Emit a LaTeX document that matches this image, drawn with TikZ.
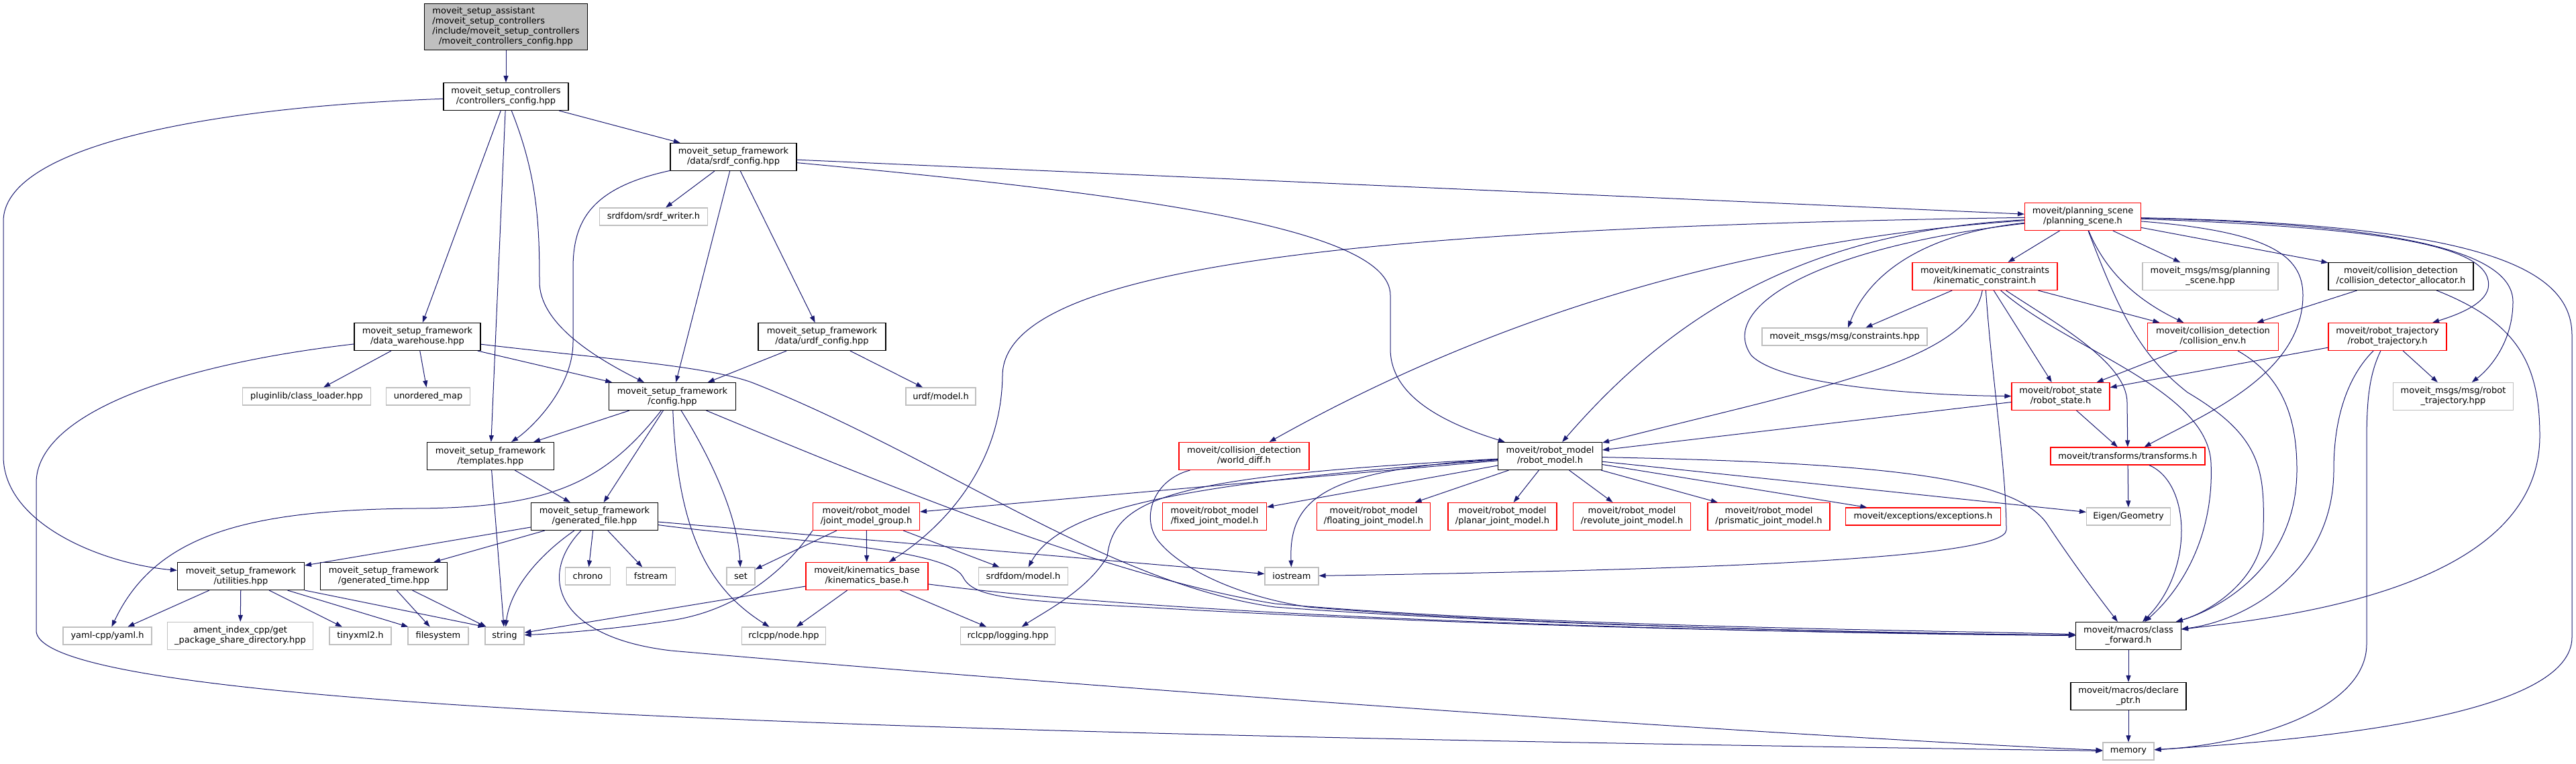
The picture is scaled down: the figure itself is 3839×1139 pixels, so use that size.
\documentclass[tikz,border=0pt]{standalone}
\usepackage{fontspec}
\setmainfont{DejaVu Sans}
\usetikzlibrary{arrows.meta}

\definecolor{depblue}{HTML}{191970}
\definecolor{extgray}{HTML}{BFBFBF}

\begin{document}
\begin{tikzpicture}[
        x=1pt, y=-1pt, % pixel like units, y grows downwards
        every node/.style={rectangle, line width=1.1pt, inner sep=2pt, minimum height=41, align=center, font=\fontsize{13}{15}\selectfont},
        doc/.style={draw=black},
        trunc/.style={draw=red},
        ext/.style={draw=extgray},
        cur/.style={draw=black, fill=extgray},
        one/.style={minimum height=26},
        dep/.style={draw=depblue, line width=1pt, -{Triangle[length=10pt, width=7pt]}}
      ]
      \useasboundingbox (0,0) rectangle (3839,1139);

      % Nodes
      \node[cur, minimum width=243, minimum height=69] (root) at (754,40) {\begin{tabular}{@{}l@{}}moveit\_setup\_assistant\\/moveit\_setup\_controllers\\/include/moveit\_setup\_controllers\\\multicolumn{1}{@{}c@{}}{/moveit\_controllers\_config.hpp}\end{tabular}};
      \node[doc, minimum width=186] (ctrl) at (754,144) {moveit\_setup\_controllers\\/controllers\_config.hpp};
      \node[doc, minimum width=188] (srdfcfg) at (1093,234) {moveit\_setup\_framework\\/data/srdf\_config.hpp};
      \node[ext, one, minimum width=161] (srdfw) at (974,323) {srdfdom/srdf\_writer.h};
      \node[trunc, minimum width=173] (pscene) at (3104,323) {moveit/planning\_scene\\/planning\_scene.h};
      \node[trunc, minimum width=216] (kconstr) at (2958,412) {moveit/kinematic\_constraints\\/kinematic\_constraint.h};
      \node[ext, minimum width=202] (pscenehpp) at (3294,412) {moveit\_msgs/msg/planning\\\_scene.hpp};
      \node[doc, minimum width=216] (cdalloc) at (3578,412) {moveit/collision\_detection\\/collision\_detector\_allocator.h};
      \node[doc, minimum width=188] (dwh) at (622,502) {moveit\_setup\_framework\\/data\_warehouse.hpp};
      \node[doc, minimum width=190] (urdfcfg) at (1225,502) {moveit\_setup\_framework\\/data/urdf\_config.hpp};
      \node[ext, one, minimum width=246] (constraints) at (2749,502) {moveit\_msgs/msg/constraints.hpp};
      \node[trunc, minimum width=195] (cenv) at (3298,502) {moveit/collision\_detection\\/collision\_env.h};
      \node[trunc, minimum width=176] (rtraj) at (3558,502) {moveit/robot\_trajectory\\/robot\_trajectory.h};
      \node[ext, one, minimum width=191] (plugin) at (457,591) {pluginlib/class\_loader.hpp};
      \node[ext, one, minimum width=125] (umap) at (638,591) {unordered\_map};
      \node[doc, minimum width=189] (cfg) at (1002,591) {moveit\_setup\_framework\\/config.hpp};
      \node[ext, one, minimum width=104] (urdfmodel) at (1402,591) {urdf/model.h};
      \node[trunc, minimum width=146] (rstate) at (3071,591) {moveit/robot\_state\\/robot\_state.h};
      \node[ext, minimum width=179] (rtrajhpp) at (3656,591) {moveit\_msgs/msg/robot\\\_trajectory.hpp};
      \node[doc, minimum width=189] (tmpl) at (731,680) {moveit\_setup\_framework\\/templates.hpp};
      \node[trunc, minimum width=194] (wdiff) at (1854,680) {moveit/collision\_detection\\/world\_diff.h};
      \node[doc, minimum width=155] (rmodel) at (2310,680) {moveit/robot\_model\\/robot\_model.h};
      \node[trunc, one, minimum width=230] (transforms) at (3171,680) {moveit/transforms/transforms.h};
      \node[doc, minimum width=189] (gfile) at (886,770) {moveit\_setup\_framework\\/generated\_file.hpp};
      \node[trunc, minimum width=159] (jmg) at (1291,770) {moveit/robot\_model\\/joint\_model\_group.h};
      \node[trunc, minimum width=155] (fixed) at (1810,770) {moveit/robot\_model\\/fixed\_joint\_model.h};
      \node[trunc, minimum width=169] (floating) at (2047,770) {moveit/robot\_model\\/floating\_joint\_model.h};
      \node[trunc, minimum width=162] (planar) at (2239,770) {moveit/robot\_model\\/planar\_joint\_model.h};
      \node[trunc, minimum width=175] (revolute) at (2432,770) {moveit/robot\_model\\/revolute\_joint\_model.h};
      \node[trunc, minimum width=182] (prismatic) at (2636,770) {moveit/robot\_model\\/prismatic\_joint\_model.h};
      \node[trunc, one, minimum width=231] (exceptions) at (2866,770) {moveit/exceptions/exceptions.h};
      \node[ext, one, minimum width=125] (eigen) at (3172,770) {Eigen/Geometry};
      \node[doc, minimum width=189] (util) at (359,859) {moveit\_setup\_framework\\/utilities.hpp};
      \node[doc, minimum width=189] (gtime) at (572,859) {moveit\_setup\_framework\\/generated\_time.hpp};
      \node[ext, one, minimum width=67] (chrono) at (876,859) {chrono};
      \node[ext, one, minimum width=73] (fstream) at (970,859) {fstream};
      \node[ext, one, minimum width=42] (set) at (1104,859) {set};
      \node[trunc, minimum width=182] (kbase) at (1292,859) {moveit/kinematics\_base\\/kinematics\_base.h};
      \node[ext, one, minimum width=133] (srdfmodel) at (1525,859) {srdfdom/model.h};
      \node[ext, one, minimum width=80] (iostream) at (1925,859) {iostream};
      \node[ext, one, minimum width=132] (yaml) at (160,948) {yaml-cpp/yaml.h};
      \node[ext, minimum width=217] (ament) at (358,948) {ament\_index\_cpp/get\\\_package\_share\_directory.hpp};
      \node[ext, one, minimum width=92] (tinyxml) at (537,948) {tinyxml2.h};
      \node[ext, one, minimum width=90] (filesystem) at (653,948) {filesystem};
      \node[ext, one, minimum width=58] (string) at (752,948) {string};
      \node[ext, one, minimum width=125] (rclnode) at (1168,948) {rclcpp/node.hpp};
      \node[ext, one, minimum width=141] (logging) at (1502,948) {rclcpp/logging.hpp};
      \node[doc, minimum width=157] (cfwd) at (3172,948) {moveit/macros/class\\\_forward.h};
      \node[doc, minimum width=172] (declptr) at (3172,1038) {moveit/macros/declare\\\_ptr.h};
      \node[ext, one, minimum width=76] (memory) at (3172,1120) {memory};

      % Edges
      \draw[dep] (root) -- (ctrl);
      \draw[dep] (ctrl) .. controls (300,160) and (5,220) .. (5,330) -- (5,680) .. controls (5,780) and (150,840) .. (util);
      \draw[dep] (ctrl) -- (dwh);
      \draw[dep] (ctrl) -- (tmpl);
      \draw[dep] (ctrl) .. controls (800,260) and (804,330) .. (804,420) .. controls (804,480) and (880,530) .. (cfg);
      \draw[dep] (ctrl) -- (srdfcfg);
      \draw[dep] (srdfcfg) .. controls (880,280) and (854,330) .. (854,400) -- (854,510) .. controls (854,580) and (790,640) .. (tmpl);
      \draw[dep] (srdfcfg) -- (srdfw);
      \draw[dep] (srdfcfg) -- (cfg);
      \draw[dep] (srdfcfg) -- (urdfcfg);
      \draw[dep] (srdfcfg) -- (pscene);
      \draw[dep] (srdfcfg) .. controls (1700,290) and (2072,340) .. (2072,440) -- (2072,520) .. controls (2072,590) and (2150,630) .. (rmodel);
      \draw[dep] (dwh) .. controls (250,545) and (54,620) .. (54,720) -- (54,940) .. controls (54,1060) and (1400,1095) .. (memory);
      \draw[dep] (dwh) -- (plugin);
      \draw[dep] (dwh) -- (umap);
      \draw[dep] (dwh) -- (cfg);
      \draw[dep] (dwh) .. controls (900,535) and (1050,545) .. (1120,570) .. controls (1400,680) and (1650,870) .. (1900,905) .. controls (2300,935) and (2900,945) .. (cfwd);
      \draw[dep] (urdfcfg) -- (cfg);
      \draw[dep] (urdfcfg) -- (urdfmodel);
      \draw[dep] (cfg) -- (tmpl);
      \draw[dep] (cfg) -- (gfile);
      \draw[dep] (cfg) .. controls (900,720) and (820,757) .. (620,758) .. controls (360,760) and (230,800) .. (yaml);
      \draw[dep] (cfg) .. controls (1070,700) and (1100,780) .. (set);
      \draw[dep] (cfg) .. controls (1010,800) and (1060,880) .. (rclnode);
      \draw[dep] (cfg) .. controls (1300,715) and (1650,860) .. (1900,900) .. controls (2300,935) and (2900,940) .. (cfwd);
      \draw[dep] (tmpl) -- (gfile);
      \draw[dep] (tmpl) -- (string);
      \draw[dep] (gfile) -- (util);
      \draw[dep] (gfile) -- (gtime);
      \draw[dep] (gfile) .. controls (800,830) and (760,880) .. (string);
      \draw[dep] (gfile) -- (chrono);
      \draw[dep] (gfile) -- (fstream);
      \draw[dep] (gfile) .. controls (800,860) and (830,950) .. (1000,970) .. controls (1800,1040) and (2800,1105) .. (memory);
      \draw[dep] (gfile) -- (iostream);
      \draw[dep] (gfile) .. controls (1150,805) and (1410,815) .. (1435,860) .. controls (1450,890) and (1500,895) .. (1700,905) .. controls (2300,940) and (2900,945) .. (cfwd);
      \draw[dep] (util) -- (yaml);
      \draw[dep] (util) -- (ament);
      \draw[dep] (util) -- (tinyxml);
      \draw[dep] (util) -- (filesystem);
      \draw[dep] (util.south east) -- (string.north west);
      \draw[dep] (gtime) -- (filesystem);
      \draw[dep] (gtime) -- (string);
      \draw[dep] (jmg) -- (set);
      \draw[dep] (jmg.south west) .. controls (1170,850) and (1100,910) .. (1000,925) .. controls (900,940) and (820,945) .. (string);
      \draw[dep] (jmg) -- (kbase);
      \draw[dep] (jmg) -- (srdfmodel);
      \draw[dep] (kbase) -- (string);
      \draw[dep] (kbase) -- (rclnode);
      \draw[dep] (kbase) -- (logging);
      \draw[dep] (kbase) .. controls (1800,925) and (2700,945) .. (cfwd);
      \draw[dep] (rmodel) -- (jmg);
      \draw[dep] (rmodel) .. controls (1750,720) and (1580,760) .. (srdfmodel);
      \draw[dep] (rmodel) .. controls (1750,710) and (1660,740) .. (1650,830) .. controls (1620,880) and (1560,910) .. (logging);
      \draw[dep] (rmodel) .. controls (1980,700) and (1920,740) .. (iostream);
      \draw[dep] (rmodel) -- (fixed);
      \draw[dep] (rmodel) -- (floating);
      \draw[dep] (rmodel) -- (planar);
      \draw[dep] (rmodel) -- (revolute);
      \draw[dep] (rmodel) -- (prismatic);
      \draw[dep] (rmodel) -- (exceptions);
      \draw[dep] (rmodel) -- (eigen);
      \draw[dep] (rmodel) .. controls (2800,690) and (3000,710) .. (3050,780) .. controls (3090,840) and (3120,880) .. (cfwd);
      \draw[dep] (wdiff) .. controls (1720,715) and (1700,770) .. (1725,805) .. controls (1760,850) and (1850,890) .. (1950,905) .. controls (2300,935) and (2900,945) .. (cfwd);
      \draw[dep] (pscene) .. controls (2000,340) and (1495,400) .. (1494,560) .. controls (1492,700) and (1400,790) .. (kbase);
      \draw[dep] (pscene) .. controls (2700,350) and (2300,430) .. (wdiff);
      \draw[dep] (pscene) .. controls (2700,345) and (2500,460) .. (rmodel);
      \draw[dep] (pscene) .. controls (2850,350) and (2780,420) .. (constraints);
      \draw[dep] (pscene) .. controls (2700,370) and (2560,460) .. (2610,530) .. controls (2660,580) and (2900,590) .. (rstate);
      \draw[dep] (pscene) -- (kconstr);
      \draw[dep] (pscene) -- (pscenehpp);
      \draw[dep] (pscene) -- (cdalloc);
      \draw[dep] (pscene) .. controls (3140,410) and (3190,450) .. (cenv);
      \draw[dep] (pscene) .. controls (3380,345) and (3432,380) .. (3432,440) .. controls (3432,560) and (3280,620) .. (transforms);
      \draw[dep] (pscene) .. controls (3160,470) and (3190,530) .. (3260,585) .. controls (3370,650) and (3375,700) .. (3373,790) .. controls (3370,860) and (3300,910) .. (cfwd);
      \draw[dep] (pscene) .. controls (3550,340) and (3720,365) .. (3708,430) .. controls (3702,455) and (3660,470) .. (rtraj);
      \draw[dep] (pscene) .. controls (3600,335) and (3745,380) .. (3745,450) .. controls (3745,510) and (3710,550) .. (rtrajhpp);
      \draw[dep] (pscene) .. controls (3700,335) and (3833,400) .. (3833,500) -- (3833,950) .. controls (3833,1060) and (3500,1100) .. (memory);
      \draw[dep] (kconstr) -- (constraints);
      \draw[dep] (kconstr) -- (cenv);
      \draw[dep] (kconstr) -- (rstate);
      \draw[dep] (kconstr) .. controls (3060,480) and (3170,540) .. (3170,600) -- (transforms);
      \draw[dep] (kconstr) .. controls (3080,520) and (3290,580) .. (3295,690) .. controls (3300,800) and (3250,880) .. (cfwd);
      \draw[dep] (kconstr) .. controls (2968,560) and (2990,700) .. (2990,790) .. controls (2990,835) and (2500,850) .. (iostream);
      \draw[dep] (kconstr) .. controls (2935,540) and (2700,580) .. (rmodel);
      \draw[dep] (cdalloc) -- (cenv);
      \draw[dep] (cdalloc) .. controls (3750,480) and (3785,540) .. (3785,650) .. controls (3785,880) and (3400,920) .. (cfwd);
      \draw[dep] (cenv) -- (rstate);
      \draw[dep] (cenv) .. controls (3400,560) and (3423,620) .. (3423,700) .. controls (3423,850) and (3300,910) .. (cfwd);
      \draw[dep] (rtraj) -- (rstate);
      \draw[dep] (rtraj) -- (rtrajhpp);
      \draw[dep] (rtraj) .. controls (3500,560) and (3478,620) .. (3478,700) .. controls (3478,850) and (3350,925) .. (cfwd);
      \draw[dep] (rtraj) .. controls (3530,560) and (3527,600) .. (3527,660) -- (3527,960) .. controls (3527,1060) and (3350,1110) .. (memory);
      \draw[dep] (rstate) -- (rmodel);
      \draw[dep] (rstate) -- (transforms);
      \draw[dep] (transforms) -- (eigen);
      \draw[dep] (transforms) .. controls (3265,720) and (3270,850) .. (cfwd);
      \draw[dep] (cfwd) -- (declptr);
      \draw[dep] (declptr) -- (memory);

    \end{tikzpicture}
\end{document}
